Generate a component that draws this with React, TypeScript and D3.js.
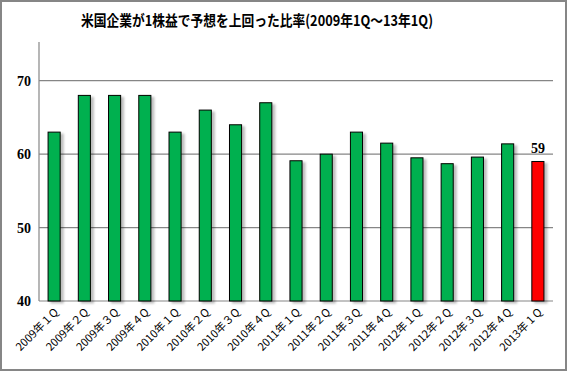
import * as d3 from "d3";

const categories = [
  "2009年１Q", "2009年２Q", "2009年３Q", "2009年４Q",
  "2010年１Q", "2010年２Q", "2010年３Q", "2010年４Q",
  "2011年１Q", "2011年２Q", "2011年３Q", "2011年４Q",
  "2012年１Q", "2012年 2 Q", "2012年 3 Q", "2012年 4 Q", "2013年 1 Q",
];
const values = [63, 68, 68, 68, 63, 66, 64, 67, 59.1, 60, 63, 61.5, 59.5, 58.7, 59.6, 61.4, 59];
const yTicks = [40, 50, 60, 70];
const highlightLabel = "59";

const W = 567;
const H = 371;
const margin = { left: 39, right: 14, top: 44, bottom: 70 };

export default function App() {
  const x = d3
    .scaleBand<string>()
    .domain(categories)
    .range([margin.left, W - margin.right])
    .paddingInner(0.6)
    .paddingOuter(0.3);
  const y = d3.scaleLinear().domain([40, 75]).range([H - margin.bottom, margin.top]);
  const last = categories.length - 1;

  return (
    <svg
      width={W}
      height={H}
      style={{ position: "absolute", left: 0, top: 0, background: "#fff" }}
    >
      <defs>
        <filter id="sh" x="-50%" y="-10%" width="200%" height="130%">
          <feDropShadow dx="3" dy="2" stdDeviation="1.2" floodColor="#000" floodOpacity="0.25" />
        </filter>
      </defs>
      <rect x={1} y={1} width={W - 2} height={H - 2} fill="#fff" stroke="#868686" strokeWidth={2} />
      <text
        x={81}
        y={26}
        textLength={352}
        lengthAdjust="spacingAndGlyphs"
        style={{ font: "bold 15px 'Noto Sans CJK JP', sans-serif", fill: "#000" }}
      >
        米国企業が1株益で予想を上回った比率(2009年1Q～13年1Q)
      </text>

      {yTicks.map((t) => (
        <g key={t}>
          <line x1={margin.left} x2={W - margin.right} y1={y(t)} y2={y(t)} stroke="#868686" strokeWidth={1.2} />
          <text
            x={31}
            y={y(t) + 5}
            textAnchor="end"
            style={{ font: "bold 14px 'Liberation Serif', serif", fill: "#000" }}
          >
            {t}
          </text>
        </g>
      ))}
      <line x1={margin.left} x2={margin.left} y1={y(75) - 2} y2={y(40)} stroke="#868686" strokeWidth={1.2} />

      {categories.map((c, i) => (
        <rect
          key={c}
          x={x(c)!}
          y={y(values[i])}
          width={x.bandwidth()}
          height={y(40) - y(values[i])}
          fill={i === last ? "#FF0000" : "#00B050"}
          stroke="#000"
          strokeWidth={1}
          filter="url(#sh)"
        />
      ))}

      <text
        x={x(categories[last])! + x.bandwidth() / 2}
        y={y(values[last]) - 8}
        textAnchor="middle"
        style={{ font: "bold 14px 'Liberation Serif', serif", fill: "#000" }}
      >
        {highlightLabel}
      </text>

      {categories.map((c) => {
        const cx = x(c)! + x.bandwidth() / 2 + 5;
        const cy = y(40) + 12;
        return (
          <text
            key={c}
            transform={`translate(${cx},${cy}) rotate(-45)`}
            textAnchor="end"
            style={{ font: "11px 'Noto Sans CJK JP', sans-serif", fill: "#000" }}
          >
            {c}
          </text>
        );
      })}
    </svg>
  );
}
